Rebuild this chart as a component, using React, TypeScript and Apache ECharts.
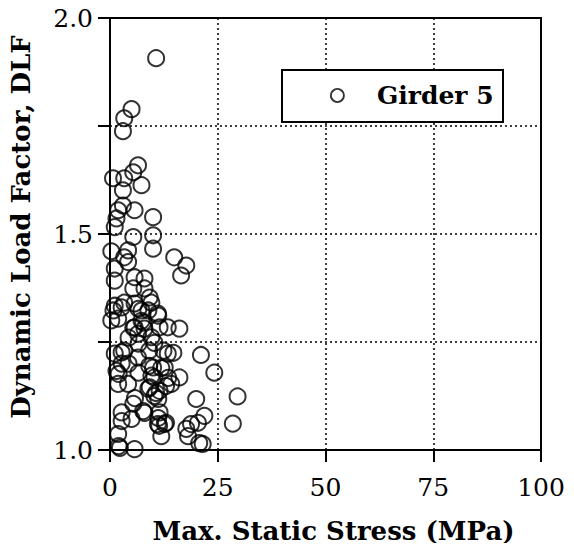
import React, { useEffect, useRef } from "react";
import * as echarts from "echarts";

// Max. static stress (MPa) for each measurement
const stressMPa = [
  10.7, 5.0, 3.3, 3.0, 6.5, 5.4, 0.7, 3.3, 7.3, 3.0,
  3.0, 5.7, 1.9, 10.0, 1.5, 1.1, 5.4, 10.0, 10.0, 4.2,
  3.3, 14.9, 17.7, 16.5, 4.2, 1.1, 1.1, 5.7, 8.0, 8.0,
  5.4, 9.2, 1.1, 2.7, 5.7, 7.3, 1.9, 7.3, 11.1, 5.7,
  11.5, 13.4, 16.1, 6.5, 9.6, 2.7, 1.1, 6.5, 13.4, 21.1,
  2.7, 1.5, 10.0, 12.7, 24.2, 16.1, 10.3, 1.9, 4.2, 9.2,
  11.5, 14.2, 10.3, 20.0, 29.6, 5.4, 2.7, 5.0, 7.7, 11.5,
  11.1, 12.7, 18.8, 21.9, 28.5, 17.7, 20.4, 11.9, 1.9, 18.1,
  21.5, 2.3, 5.7, 3.3, 9.6, 0.8, 6.6, 8.9, 11.2, 7.7,
  8.0, 4.3, 10.3, 6.6, 5.4, 3.3, 9.1, 12.4, 14.7, 4.3,
  9.1, 11.9, 2.0, 6.6, 9.6, 13.5, 8.9, 10.7, 13.0, 11.2,
  8.0, 2.7, 11.2, 13.0, 11.4, 2.0, 20.7, 0.3, 0.3, 5.8,
];

// Dynamic load factor for each measurement
const dlfValues = [
  1.907, 1.789, 1.768, 1.738, 1.659, 1.643, 1.629, 1.629, 1.613, 1.601,
  1.566, 1.555, 1.555, 1.539, 1.536, 1.516, 1.493, 1.497, 1.466, 1.462,
  1.446, 1.446, 1.427, 1.404, 1.435, 1.42, 1.392, 1.4, 1.397, 1.374,
  1.374, 1.353, 1.334, 1.33, 1.339, 1.323, 1.304, 1.299, 1.316, 1.284,
  1.284, 1.284, 1.281, 1.269, 1.261, 1.226, 1.223, 1.214, 1.223, 1.22,
  1.2, 1.183, 1.191, 1.191, 1.179, 1.168, 1.168, 1.153, 1.153, 1.145,
  1.137, 1.153, 1.125, 1.118, 1.124, 1.107, 1.087, 1.072, 1.09, 1.087,
  1.06, 1.06, 1.06, 1.079, 1.061, 1.049, 1.063, 1.032, 1.037, 1.032,
  1.014, 1.005, 1.002, 1.341, 1.341, 1.323, 1.327, 1.323, 1.311, 1.295,
  1.281, 1.26, 1.248, 1.246, 1.283, 1.23, 1.23, 1.23, 1.225, 1.2,
  1.195, 1.19, 1.176, 1.179, 1.172, 1.167, 1.142, 1.132, 1.148, 1.118,
  1.086, 1.067, 1.074, 1.063, 1.056, 1.009, 1.016, 1.46, 1.3, 1.12,
];

const seriesName = "Girder 5";
const xTitle = "Max. Static Stress (MPa)";
const yTitle = "Dynamic Load Factor, DLF";

const SERIF = "'DejaVu Serif', serif";

export default function App() {
  const ref = useRef<HTMLDivElement>(null);

  useEffect(() => {
    if (!ref.current) return;
    const chart = echarts.init(ref.current, undefined, { renderer: "svg" });
    const data = stressMPa.map((x, i) => [x, dlfValues[i]]);
    chart.setOption({
      animation: false,
      backgroundColor: "#fff",
      grid: {
        left: 108,
        right: 33,
        top: 18,
        bottom: 101,
        show: true,
        borderColor: "#000",
        borderWidth: 2,
        backgroundColor: "transparent",
      },
      legend: {
        data: [seriesName],
        left: 325,
        top: 78,
        z: 6,
        itemWidth: 13,
        itemHeight: 13,
        icon: "circle",
        itemStyle: { color: "transparent", borderColor: "#000", borderWidth: 1.8 },
        textStyle: {
          fontFamily: SERIF,
          fontWeight: "bold",
          fontSize: 25,
          color: "#000",
          padding: [0, 0, 0, 28],
        },
      },
      graphic: [
        {
          type: "rect",
          z: 3,
          shape: { x: 282, y: 70, width: 221, height: 52 },
          style: { fill: "#fff", stroke: "#000", lineWidth: 2 },
        },
      ],
      xAxis: {
        type: "value",
        min: 0,
        max: 100,
        interval: 25,
        name: xTitle,
        nameLocation: "middle",
        nameGap: 68,
        nameTextStyle: {
          fontFamily: SERIF,
          fontWeight: "bold",
          fontSize: 26,
          color: "#000",
          padding: [0, 0, 0, 16],
        },
        axisLine: { show: true, lineStyle: { color: "#000", width: 2 } },
        axisTick: { show: true, inside: false, length: 12, lineStyle: { color: "#000", width: 2 } },
        axisLabel: { fontFamily: SERIF, fontSize: 25, color: "#000", margin: 25 },
        splitLine: { show: true, lineStyle: { color: "#000", width: 1.5, type: [2, 3] } },
      },
      yAxis: {
        type: "value",
        min: 1.0,
        max: 2.0,
        interval: 0.25,
        name: yTitle,
        nameLocation: "middle",
        nameGap: 76,
        nameTextStyle: {
          fontFamily: SERIF,
          fontWeight: "bold",
          fontSize: 26,
          color: "#000",
          padding: [0, 0, 0, 14],
        },
        axisLine: { show: true, lineStyle: { color: "#000", width: 2 } },
        axisTick: { show: true, inside: false, length: 12, lineStyle: { color: "#000", width: 2 } },
        axisLabel: {
          fontFamily: SERIF,
          fontSize: 25,
          color: "#000",
          margin: 17,
          formatter: (v: number) =>
            Math.abs(v * 2 - Math.round(v * 2)) < 1e-6 ? v.toFixed(1) : "",
        },
        splitLine: { show: true, lineStyle: { color: "#000", width: 1.5, type: [2, 3] } },
      },
      series: [
        {
          name: seriesName,
          type: "scatter",
          data,
          symbol: "circle",
          symbolSize: 16,
          z: 2,
          itemStyle: { color: "transparent", borderColor: "#000", borderWidth: 2 },
        },
      ],
    });
    return () => chart.dispose();
  }, []);

  return <div ref={ref} style={{ width: 574, height: 551, margin: -8 }} />;
}
